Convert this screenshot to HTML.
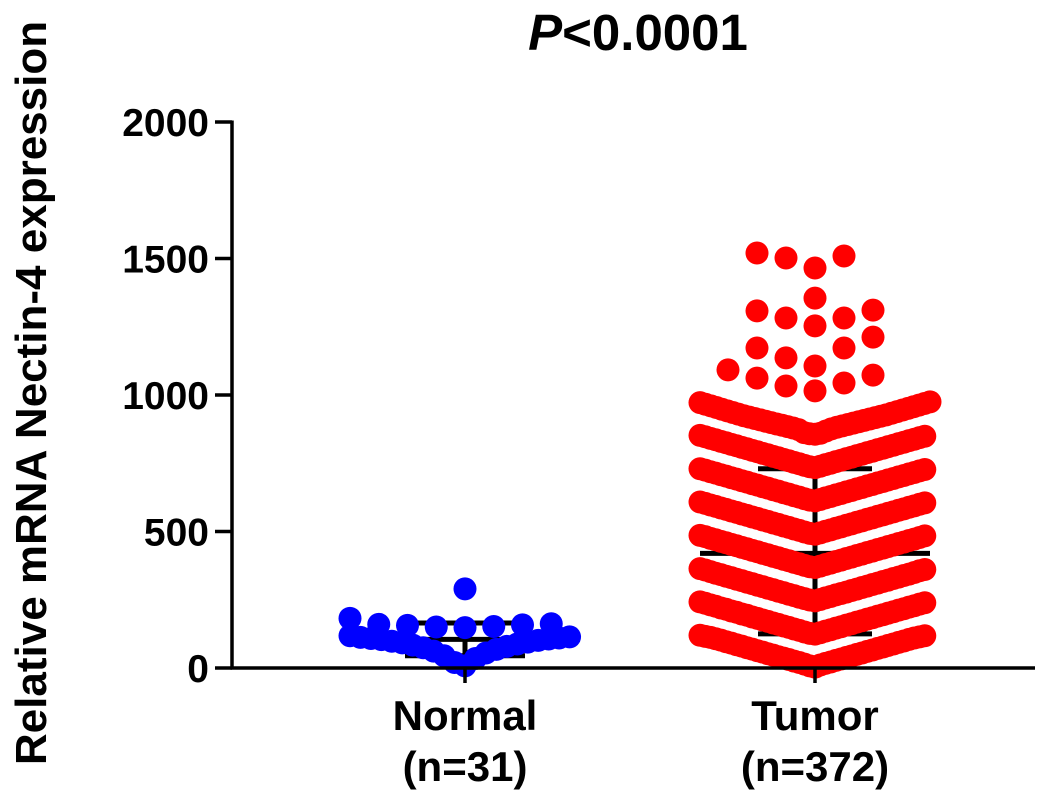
<!DOCTYPE html>
<html><head><meta charset="utf-8"><style>
html,body{margin:0;padding:0;background:#fff}
svg{display:block}
text{font-family:"Liberation Sans",Arial,sans-serif;font-weight:bold;fill:#000}
</style></head><body>
<svg id="chart" width="1063" height="803" viewBox="0 0 1063 803" xmlns="http://www.w3.org/2000/svg">
</svg>
<script>
const categories = ["Normal", "Tumor"];
const sampleLabels = ["(n=31)", "(n=372)"];
const yTicks = [0, 500, 1000, 1500, 2000];
const normalValues = [290,182,160,156,150,148,152,158,162,8,20,35,45,55,62,68,74,79,84,88,92,95,98,101,104,106,108,110,112,114,118];
const tumorValues = [
3,8,11,14,17,20,22,25,28,31,33,36,39,41,44,47,50,52,55,58,61,63,66,69,72,74,77,80,83,85,88,91,94,96,99,102,105,107,110,112,114,116,118,120,
124,127,129,132,135,138,140,143,146,149,151,154,157,160,162,165,168,171,173,176,179,182,184,187,190,193,195,198,201,204,206,209,212,215,217,220,223,226,228,231,234,237,239,242,
246,249,251,254,257,259,262,265,268,270,273,276,278,281,284,287,289,292,295,298,300,303,306,309,311,314,317,320,322,325,328,331,333,336,339,342,344,347,350,353,356,359,361,364,
368,371,373,376,379,382,384,387,390,393,395,398,401,404,406,409,412,415,417,420,423,426,428,431,434,437,439,442,445,448,450,453,456,459,461,464,467,470,472,475,478,481,484,486,
490,493,495,498,501,504,506,509,512,515,517,520,523,526,528,531,534,537,539,542,545,548,550,553,556,559,561,564,567,570,572,575,578,581,583,586,589,592,594,597,600,603,605,608,
612,615,617,620,623,626,628,631,634,637,639,642,645,648,650,653,656,659,661,664,667,670,672,675,678,681,683,686,689,692,694,697,700,703,705,708,711,714,716,719,722,725,727,730,
734,737,739,742,745,748,750,753,756,759,761,764,767,770,772,775,778,781,783,786,789,792,794,797,800,803,805,808,811,814,816,819,822,825,827,830,833,836,838,841,844,847,849,852,
856,858,860,862,868,873,876,879,882,884,887,889,892,894,897,899,902,904,907,909,912,914,917,919,922,924,927,930,933,936,939,942,945,948,951,954,957,960,963,966,969,972,975,
1015,1033,1044,1062,1073,1092,1106,1136,1172,1172,1212,1253,1282,1282,1308,1311,1355,1465,1502,1509,1520];
const means = [105, 420];
const sdLow = [45, 125];
const sdHigh = [165, 730];
const seriesColors = ["#0000ff", "#ff0000"];

const NS = "http://www.w3.org/2000/svg";
const svg = document.getElementById("chart");
const X0 = 232, X1 = 1035, Y0 = 668, Y1 = 122, YMAX = 2000;
function yScale(v){ return Y0 - (v / YMAX) * (Y0 - Y1); }
const catX = [465, 815];
function xScale(i){ return catX[i]; }
function mk(tag, attrs){ const e = document.createElementNS(NS, tag); for (const k in attrs) e.setAttribute(k, attrs[k]); svg.appendChild(e); return e; }

const title = mk("text", {x: 638, y: 50, "text-anchor": "middle", "font-size": 51});


title.innerHTML = '<tspan font-style="italic">P</tspan>&lt;0.0001';

const yt = mk("text", {x: 0, y: 0, "text-anchor": "middle", "font-size": 44, transform: "translate(46,393) rotate(-90)"});


yt.textContent = "Relative mRNA Nectin-4 expression";

const bw = [115, 115], cw = [60, 57];
for (let i = 0; i < 2; i++) {
  const cx = xScale(i);
  const g = document.createElementNS(NS, "g");
  
  
  svg.appendChild(g);
  const lines = [
    [cx - bw[i], yScale(means[i]), cx + bw[i], yScale(means[i])],
    [cx, yScale(sdLow[i]), cx, yScale(sdHigh[i])],
    [cx - cw[i], yScale(sdHigh[i]), cx + cw[i], yScale(sdHigh[i])],
    [cx - cw[i], yScale(sdLow[i]), cx + cw[i], yScale(sdLow[i])]
  ];
  lines.forEach(l => { const e = document.createElementNS(NS, "line"); e.setAttribute("x1", l[0]); e.setAttribute("y1", l[1]); e.setAttribute("x2", l[2]); e.setAttribute("y2", l[3]); e.setAttribute("stroke", "#000"); e.setAttribute("stroke-width", 5); g.appendChild(e); });
}

const BIN = 122, HALF = 115, R = 11.5;
[normalValues, tumorValues].forEach((vals, si) => {
  const bins = {};
  vals.forEach(v => { const b = Math.floor(v / BIN); (bins[b] = bins[b] || []).push(v); });
  const g = document.createElementNS(NS, "g");
  
  
  svg.appendChild(g);
  Object.keys(bins).forEach(b => {
    const arr = bins[b].slice().sort((a, c) => a - c);
    const n = arr.length;
    const step = n > 1 ? Math.min(29, HALF / Math.ceil((n - 1) / 2)) : 0;
    arr.forEach((v, i) => {
      const k = Math.ceil(i / 2);
      const off = (i % 2 === 1 ? -1 : 1) * k * step;
      const c = document.createElementNS(NS, "circle");
      c.setAttribute("cx", xScale(si) + off);
      c.setAttribute("cy", yScale(v));
      c.setAttribute("r", R);
      c.setAttribute("fill", seriesColors[si]);
      
      
      g.appendChild(c);
    });
  });
});

const ya = mk("line", {x1: X0, y1: Y1 - 1.5, x2: X0, y2: Y0 + 1.5, stroke: "#000", "stroke-width": 3.5});


const xa = mk("line", {x1: X0 - 1.5, y1: Y0, x2: X1, y2: Y0, stroke: "#000", "stroke-width": 3.5});


yTicks.forEach(t => {
  const y = yScale(t);
  const tl = mk("line", {x1: X0 - 17, y1: y, x2: X0, y2: y, stroke: "#000", "stroke-width": 3.5});
  
  
  const lb = mk("text", {x: 209, y: y + 14, "text-anchor": "end", "font-size": 39});
  
  
  lb.textContent = t;
});
categories.forEach((c, i) => {
  const x = xScale(i);
  const tk = mk("line", {x1: x, y1: Y0, x2: x, y2: Y0 + 15, stroke: "#000", "stroke-width": 3.5});
  
  
  const l1 = mk("text", {x: x, y: 730, "text-anchor": "middle", "font-size": 42});
  
  
  l1.textContent = c;
  const l2 = mk("text", {x: x, y: 781, "text-anchor": "middle", "font-size": 42});
  
  
  l2.textContent = sampleLabels[i];
});
</script>
</body></html>
